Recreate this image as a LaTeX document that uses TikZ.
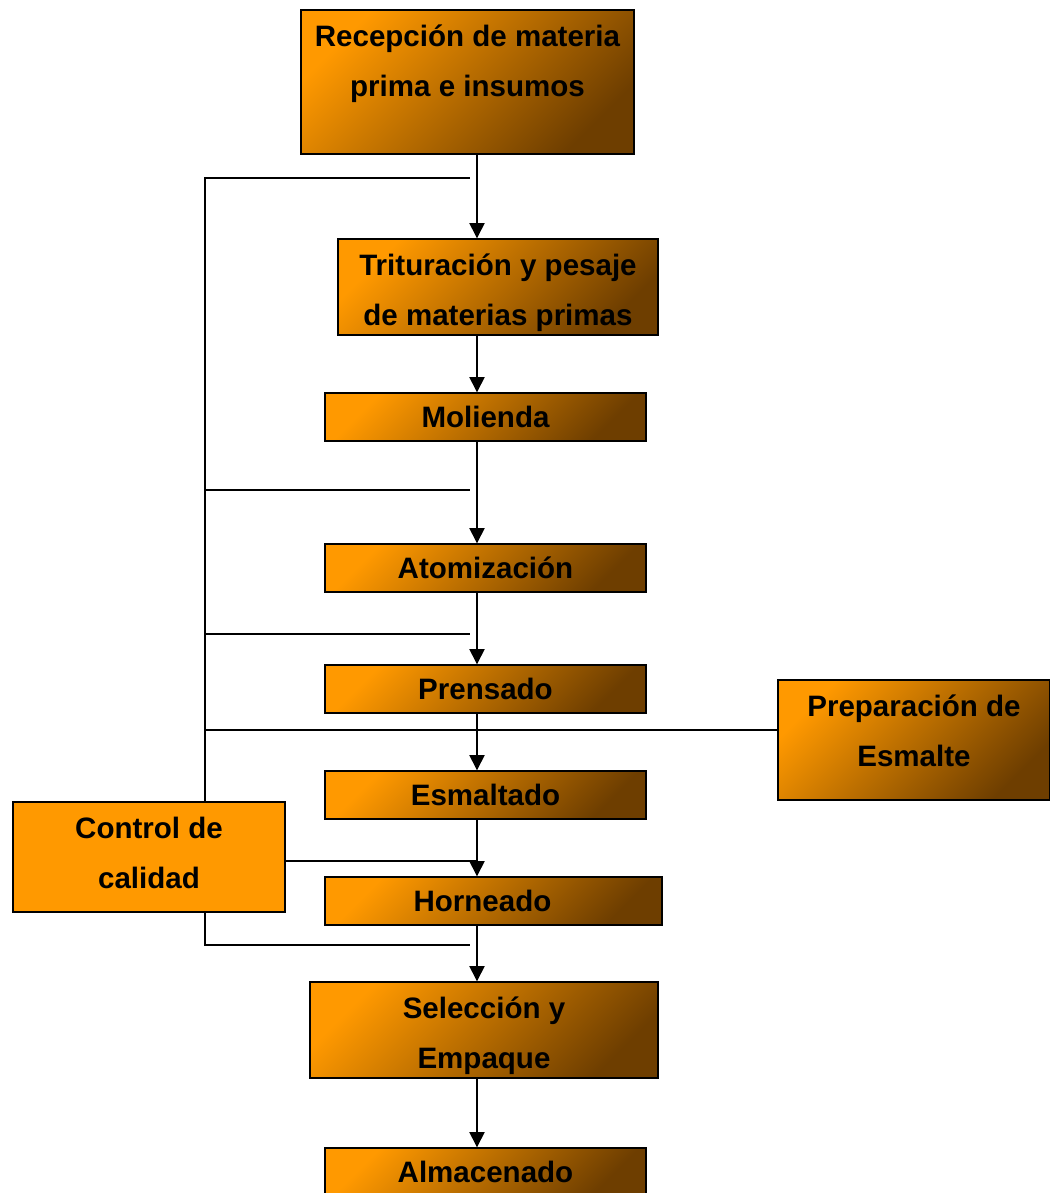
\documentclass[tikz,border=0pt]{standalone}
\usepackage{fontspec}
\setmainfont{Liberation Sans}
\usetikzlibrary{arrows.meta}
\definecolor{naranja}{RGB}{255,153,0}
\definecolor{cafe}{RGB}{110,62,0}
\tikzset{
  etapa/.style={draw,line width=1pt,inner sep=0pt,align=center,
    font=\fontsize{21}{35.6}\selectfont\bfseries,
    top color=naranja,bottom color=cafe,shading angle=45},
  control/.style={draw,line width=1pt,inner sep=0pt,align=center,
    font=\fontsize{21}{35.6}\selectfont\bfseries,fill=naranja},
  rotulo/.style={align=center,inner sep=0pt,font=\fontsize{21}{35.6}\selectfont\bfseries},
  linea/.style={line width=1pt},
  flecha/.style={line width=1pt,-{Triangle[length=0.38cm,width=0.38cm]}}
}
\begin{document}
\begin{tikzpicture}[x=0.025cm,y=-0.025cm]
        \useasboundingbox (0,0) rectangle (1050,1193);
        \node[etapa,minimum width=8.325cm,minimum height=3.6cm,
              label={[rotulo,yshift=0.45cm]center:Recepción de materia\\prima e insumos}] (rec) at (467.5,82) {};
        \node[etapa,minimum width=8cm,minimum height=2.4cm,
              label={[rotulo,yshift=-0.15cm]center:Trituración y pesaje\\de materias primas}] (trit) at (498,287) {};
        \node[etapa,minimum width=8.025cm,minimum height=1.2cm]  (mol)  at (485.5,417) {Molienda};
        \node[etapa,minimum width=8.025cm,minimum height=1.2cm]  (ato)  at (485.5,568) {Atomización};
        \node[etapa,minimum width=8.025cm,minimum height=1.2cm]  (pren) at (485.5,689) {Prensado};
        \node[etapa,minimum width=8.025cm,minimum height=1.2cm]  (esm)  at (485.5,795) {Esmaltado};
        \node[etapa,minimum width=8.425cm,minimum height=1.2cm]  (horn) at (493.5,901) {Horneado\hspace{0.55cm}};
        \node[etapa,minimum width=8.7cm,minimum height=2.4cm,
              label={[rotulo,yshift=-0.15cm]center:Selección y\\Empaque}] (sel) at (484,1030) {};
        \node[etapa,minimum width=8.025cm,minimum height=1.2cm]  (alm)  at (485.5,1172) {Almacenado};
        \node[etapa,minimum width=6.8cm,minimum height=3cm,
              label={[rotulo,yshift=0.24cm]center:Preparación de\\Esmalte}] (prep) at (914,740) {};
        \node[control,minimum width=6.8cm,minimum height=2.75cm,
              label={[rotulo,yshift=0.1cm]center:Control de\\calidad}] (ctrl) at (149,857) {};

        \coordinate (eje)  at (477,0);
        \coordinate (riel) at (205,0);
        \coordinate (r1) at (470,178);
        \coordinate (r2) at (470,490);
        \coordinate (r3) at (470,634);
        \coordinate (r4) at (470,945);
        \coordinate (r5) at (205,730);
        \coordinate (r6) at (477,861);

        % linea principal
        \draw[flecha] (rec.south -| eje)  -- (trit.north -| eje);
        \draw[flecha] (trit.south -| eje) -- (mol.north -| eje);
        \draw[flecha] (mol.south -| eje)  -- (ato.north -| eje);
        \draw[flecha] (ato.south -| eje)  -- (pren.north -| eje);
        \draw[flecha] (pren.south -| eje) -- (esm.north -| eje);
        \draw[flecha] (esm.south -| eje)  -- (horn.north -| eje);
        \draw[flecha] (horn.south -| eje) -- (sel.north -| eje);
        \draw[flecha] (sel.south -| eje)  -- (alm.north -| eje);

        % control de calidad
        \draw[linea] (ctrl.north -| riel) -- (riel |- r1) -- (r1);
        \draw[linea] (riel |- r2) -- (r2);
        \draw[linea] (riel |- r3) -- (r3);
        \draw[linea] (r5) -- (prep.west |- r5);
        \draw[linea] (ctrl.east |- r6) -- (r6);
        \draw[linea] (ctrl.south -| riel) -- (riel |- r4) -- (r4);
    \end{tikzpicture}
\end{document}
